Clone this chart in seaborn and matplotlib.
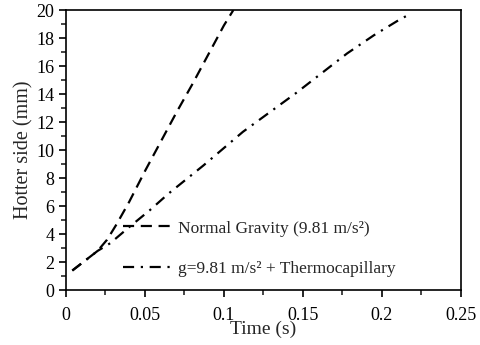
import numpy as np
import pandas as pd
import seaborn as sns
import matplotlib
matplotlib.use('Agg')
from matplotlib import pyplot as plt
from matplotlib.ticker import MultipleLocator, FuncFormatter

t_normal = [0.004, 0.012, 0.02, 0.026, 0.032, 0.04, 0.05, 0.06, 0.07, 0.08, 0.09, 0.1, 0.106]
h_normal = [1.4, 2.1, 2.8, 3.6, 4.7, 6.3, 8.5, 10.6, 12.7, 14.7, 16.8, 18.9, 20.0]

t_thermo = [0.004, 0.012, 0.02, 0.028, 0.04, 0.053, 0.065, 0.087, 0.112, 0.146,
            0.178, 0.195, 0.211, 0.216]
h_thermo = [1.4, 2.1, 2.8, 3.35, 4.5, 5.7, 6.9, 8.9, 11.3, 14.1,
            16.9, 18.2, 19.3, 19.6]

labels = ['Normal Gravity (9.81 m/s²)', 'g=9.81 m/s² + Thermocapillary']

sns.set_style('ticks')
plt.rcParams['font.family'] = ['Liberation Serif', 'DejaVu Serif']

fig = plt.figure(figsize=(4.8, 3.45), dpi=100)
ax = fig.add_axes([0.1375, 0.159, 0.8225, 0.812])

d1 = pd.DataFrame({'t': t_normal, 'h': h_normal})
d2 = pd.DataFrame({'t': t_thermo, 'h': h_thermo})
sns.lineplot(data=d1, x='t', y='h', ax=ax, color='black', lw=1.6,
             label=labels[0], dashes=False)
sns.lineplot(data=d2, x='t', y='h', ax=ax, color='black', lw=1.6,
             label=labels[1], dashes=False)
ax.lines[0].set_dashes((5, 3))
ax.lines[1].set_dashes((5, 3, 1, 3))

ax.set_xlim(0, 0.25)
ax.set_ylim(0, 20)
ax.xaxis.set_major_locator(MultipleLocator(0.05))
ax.xaxis.set_minor_locator(MultipleLocator(0.025))
ax.yaxis.set_major_locator(MultipleLocator(2))
ax.yaxis.set_minor_locator(MultipleLocator(1))
ax.xaxis.set_major_formatter(FuncFormatter(lambda v, p: '%g' % round(v, 3)))
ax.tick_params(which='major', direction='out', length=5, width=1.2, labelsize=13, colors='black')
ax.tick_params(axis='x', which='major', pad=7)
ax.tick_params(which='minor', direction='out', length=3.5, width=1.2)
for s in ax.spines.values():
    s.set_color('black')
    s.set_linewidth(1.2)

ax.set_xlabel('Time (s)', fontsize=14, labelpad=-2)
ax.set_ylabel('Hotter side (mm)', fontsize=14.5, labelpad=2)

leg = ax.legend(loc='lower left', bbox_to_anchor=(0.145, 0.047), frameon=False,
                fontsize=12.5, handlelength=2.8, labelspacing=1.4,
                borderpad=0, borderaxespad=0, handletextpad=0.35)

fig.savefig('out.png', dpi=100)
